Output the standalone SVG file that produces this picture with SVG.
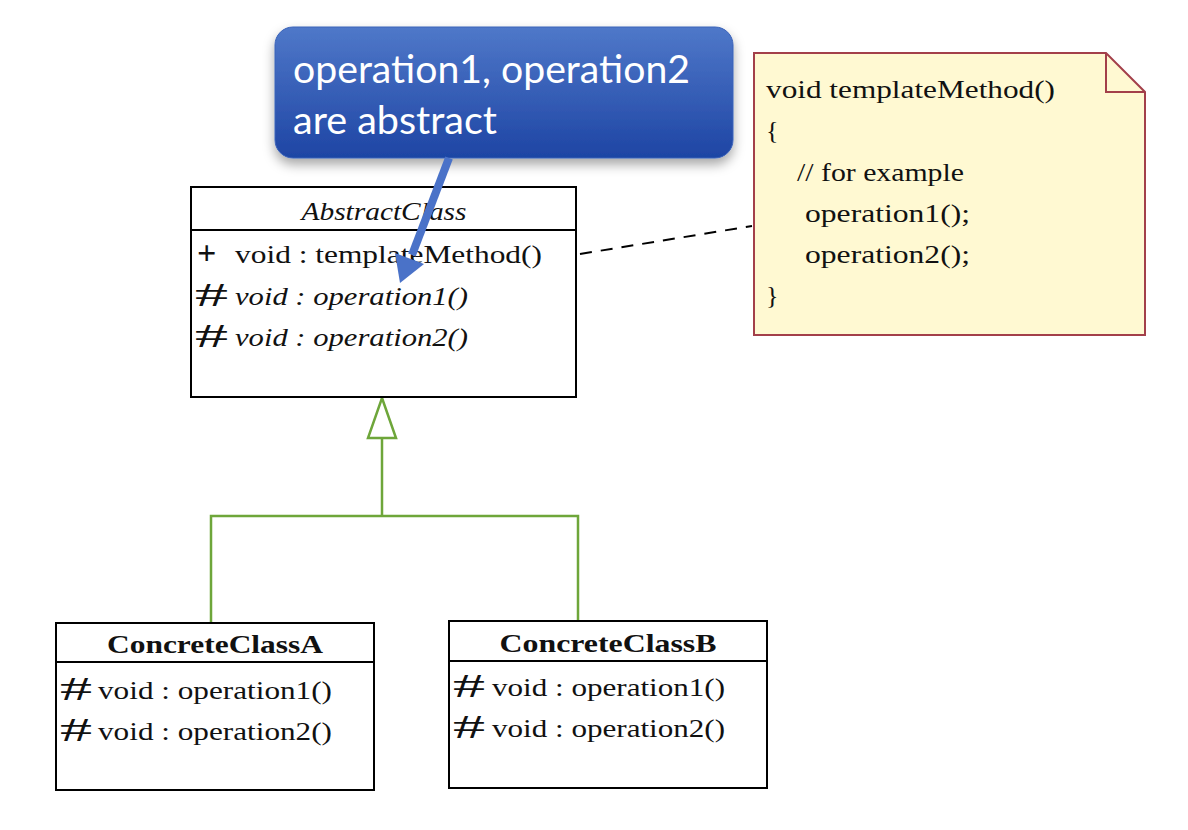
<svg xmlns="http://www.w3.org/2000/svg" width="1188" height="830" viewBox="0 0 1188 830">
<style>
.box{fill:#fff;stroke:#000;stroke-width:2}
.ser{font-family:"Liberation Serif","Times New Roman",serif;font-size:26px;fill:#111}
.hash{font-family:"Liberation Serif","Times New Roman",serif;font-size:34px;fill:#111}
.it{font-style:italic}
.bd{font-weight:bold}
.gen{fill:none;stroke:#6EA63A;stroke-width:2.5}
.note{fill:#FFF9D2;stroke:#A3404A;stroke-width:2}
.call{font-family:Lato,"Open Sans",sans-serif;font-size:39px;fill:#fff}
</style>
<defs>
<linearGradient id="blue" x1="0" y1="0" x2="0" y2="1">
<stop offset="0" stop-color="#4F78C9"/>
<stop offset="1" stop-color="#1E45A4"/>
</linearGradient>
<filter id="sh" x="-10%" y="-20%" width="120%" height="150%">
<feDropShadow dx="0" dy="6" stdDeviation="6" flood-color="#000" flood-opacity="0.35"/>
</filter>
</defs>
<rect width="1188" height="830" fill="#fff"/>

<g id="connectors">
<line x1="580" y1="254" x2="752" y2="226" stroke="#000" stroke-width="2" stroke-dasharray="12,9"/>
<polyline class="gen" points="211,623 211,516 578,516 578,621"/>
<line class="gen" x1="382" y1="516" x2="382" y2="438"/>
<polygon class="gen" points="382,398 396,438 368,438" fill="#fff"/>
</g>

<g id="AbstractClass">
<rect class="box" x="191" y="187" width="385" height="210"/>
<line x1="191" y1="230" x2="576" y2="230" stroke="#000" stroke-width="2"/>
<text class="ser it" x="384" y="220" text-anchor="middle" textLength="165" lengthAdjust="spacingAndGlyphs">AbstractClass</text>
<text class="hash bd" x="197" y="264">+</text>
<text class="ser" x="235" y="263" textLength="307" lengthAdjust="spacingAndGlyphs">void : templateMethod()</text>
<text class="hash" x="195" y="306" textLength="33" lengthAdjust="spacingAndGlyphs">#</text>
<text class="ser it" x="235" y="305" textLength="233" lengthAdjust="spacingAndGlyphs">void : operation1()</text>
<text class="hash" x="195" y="347" textLength="33" lengthAdjust="spacingAndGlyphs">#</text>
<text class="ser it" x="235" y="346" textLength="233" lengthAdjust="spacingAndGlyphs">void : operation2()</text>
</g>

<g id="ConcreteClassA">
<rect class="box" x="56" y="623" width="318" height="167"/>
<line x1="56" y1="662" x2="374" y2="662" stroke="#000" stroke-width="2"/>
<text class="ser bd" x="215" y="653" text-anchor="middle" textLength="216" lengthAdjust="spacingAndGlyphs">ConcreteClassA</text>
<text class="hash" x="60" y="700" textLength="32" lengthAdjust="spacingAndGlyphs">#</text>
<text class="ser" x="98" y="699" textLength="234" lengthAdjust="spacingAndGlyphs">void : operation1()</text>
<text class="hash" x="60" y="741" textLength="32" lengthAdjust="spacingAndGlyphs">#</text>
<text class="ser" x="98" y="740" textLength="234" lengthAdjust="spacingAndGlyphs">void : operation2()</text>
</g>

<g id="ConcreteClassB">
<rect class="box" x="449" y="621" width="318" height="167"/>
<line x1="449" y1="661" x2="767" y2="661" stroke="#000" stroke-width="2"/>
<text class="ser bd" x="608" y="652" text-anchor="middle" textLength="217" lengthAdjust="spacingAndGlyphs">ConcreteClassB</text>
<text class="hash" x="453" y="697" textLength="32" lengthAdjust="spacingAndGlyphs">#</text>
<text class="ser" x="492" y="696" textLength="233" lengthAdjust="spacingAndGlyphs">void : operation1()</text>
<text class="hash" x="453" y="738" textLength="32" lengthAdjust="spacingAndGlyphs">#</text>
<text class="ser" x="492" y="737" textLength="233" lengthAdjust="spacingAndGlyphs">void : operation2()</text>
</g>

<g id="note">
<path class="note" d="M754,53 L1106,53 L1145,92 L1145,335 L754,335 Z"/>
<path d="M1106,53 L1106,92 L1145,92" fill="none" stroke="#A3404A" stroke-width="2"/>
<text class="ser" x="766" y="98" textLength="289" lengthAdjust="spacingAndGlyphs">void templateMethod()</text>
<text class="ser" x="766" y="139">{</text>
<text class="ser" x="797" y="181" textLength="167" lengthAdjust="spacingAndGlyphs">// for example</text>
<text class="ser" x="805" y="222" textLength="165" lengthAdjust="spacingAndGlyphs">operation1();</text>
<text class="ser" x="805" y="263" textLength="165" lengthAdjust="spacingAndGlyphs">operation2();</text>
<text class="ser" x="766" y="304">}</text>
</g>

<g id="callout">
<rect x="275" y="27" width="458" height="131" rx="18" ry="18" fill="url(#blue)" stroke="#3A62B8" stroke-width="1" filter="url(#sh)"/>
<text class="call" x="293" y="83" textLength="397" lengthAdjust="spacingAndGlyphs">operation1, operation2</text>
<text class="call" x="293" y="134" textLength="204" lengthAdjust="spacingAndGlyphs">are abstract</text>
<line x1="449" y1="158" x2="412" y2="255" stroke="#4A72C8" stroke-width="8"/>
<polygon points="400,283 395,253 424,264" fill="#4A72C8"/>
</g>
</svg>
